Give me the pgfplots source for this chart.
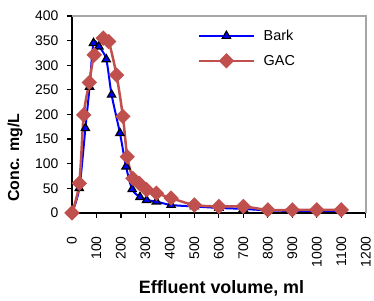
\documentclass[border=0pt]{standalone}
\usepackage{fontspec}
\setmainfont{Liberation Sans}
\usepackage{pgfplots}
\pgfplotsset{compat=1.18}
\definecolor{barkblue}{RGB}{0,0,255}
\definecolor{gacred}{RGB}{192,80,77}
\begin{document}
\begin{tikzpicture}
\begin{axis}[
  at={(0,0)}, anchor=south west,
  scale only axis, width=294bp, height=197bp,
  xmin=0, xmax=1200, ymin=0, ymax=400,
  xtick={0,100,...,1200}, ytick={0,50,...,400},
  axis x line*=bottom, axis y line*=left,
  axis line style={line width=1.8bp, black, -},
  tick style={black, line width=1.2bp}, major tick length=5bp, tick align=outside,
  /pgf/number format/assume math mode=true,
  /pgf/number format/set thousands separator={},
  ticklabel style={font=\fontsize{14}{14}\selectfont},
  xticklabel style={rotate=90, anchor=east},
  xticklabel shift=15bp,
  yticklabel shift=5bp,
  xlabel={\textbf{Effluent volume, ml}},
  xlabel style={font=\fontsize{18}{18}\selectfont, at={([yshift=-76bp]rel axis cs:0.509,0)}, anchor=center},
  ylabel={\textbf{Conc. mg/L}},
  ylabel style={font=\fontsize{16}{16}\selectfont, at={([xshift=-57bp]rel axis cs:0,0.28)}, anchor=center},
  legend style={at={(rel axis cs:0.429,0.93)}, anchor=north west, draw=none, fill=none,
    font=\fontsize{14.5}{16}\selectfont, row sep=13bp, inner sep=0pt,
    nodes={inner xsep=9bp, inner ysep=0pt}},
  legend cell align=left,
  legend image code/.code={\draw[mark repeat=2,mark phase=2,#1] plot coordinates {(0bp,0bp) (27bp,0bp) (54bp,0bp)};},
  clip=false,
]
\draw[gray!70, line width=1.6bp] (rel axis cs:0,1) -- (rel axis cs:1,1) -- (rel axis cs:1,0);
\addplot[barkblue, line width=2bp, smooth, tension=0.5, mark=triangle*, mark size=4.8bp,
  mark options={fill=barkblue, draw=black, line width=1.2bp, solid}] coordinates {
(0,0) (30,50) (55,172) (72,256) (88,345) (110,338) (140,312) (162,240) (196,162)
(221,94) (246,48) (278,32) (305,26) (345,23) (405,16) (500,13) (600,10) (700,8)
(800,5) (900,4) (1000,4) (1100,4)};
\addlegendentry{Bark}
\addplot[gacred, line width=2.5bp, smooth, tension=0.5, mark=square*, mark size=4.2bp,
  mark options={fill=gacred, draw=gacred, rotate=45, solid}] coordinates {
(0,0) (30,60) (48,199) (71,265) (91,321) (128,355) (150,348) (182,280) (208,196)
(226,114) (249,70) (275,60) (305,47) (345,40) (405,30) (500,16) (600,13) (700,13)
(800,6) (900,6) (1000,6) (1100,6)};
\addlegendentry{GAC}
\end{axis}
\path (-72bp,-87bp) rectangle (302bp,213bp);
\end{tikzpicture}
\end{document}
